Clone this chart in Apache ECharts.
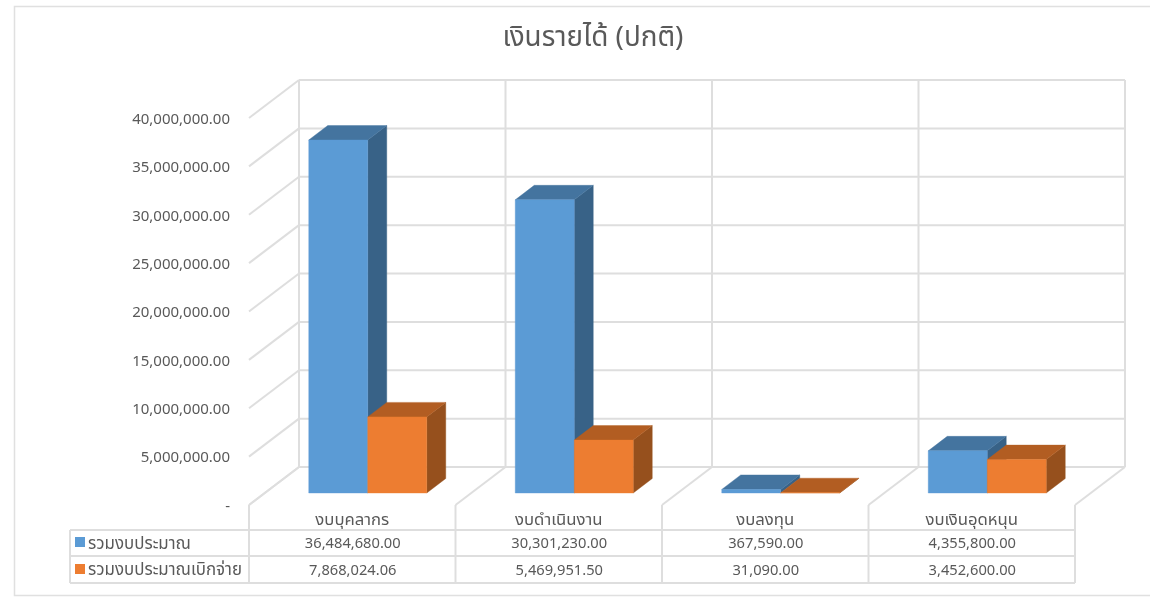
<!DOCTYPE html>
<html><head><meta charset="utf-8">
<style>html,body{margin:0;padding:0;background:#fff}#c{width:1150px;height:600px}</style>
<script src="https://cdn.jsdelivr.net/npm/echarts@6/dist/echarts.min.js"></script>
</head><body><div id="c"></div>
<script>
const titleText = 'เงินรายได้ (ปกติ)';
const categories = ['งบบุคลากร','งบดำเนินงาน','งบลงทุน','งบเงินอุดหนุน'];
const budgetName = 'รวมงบประมาณ';
const spentName = 'รวมงบประมาณเบิกจ่าย';
const budget = [36484680.00,30301230.00,367590.00,4355800.00];
const spent = [7868024.06,5469951.50,31090.00,3452600.00];
const ticks = [0,5000000,10000000,15000000,20000000,25000000,30000000,35000000,40000000];

const FONT = '"Noto Sans","Noto Sans Thai","Open Sans",sans-serif';
const TXT = '#595959', GRID = '#dedede';
const fmt = v => v.toLocaleString('en-US',{minimumFractionDigits:2,maximumFractionDigits:2});
const WALL = {dx:50, dy:38};
const lineStyle = {stroke:GRID, lineWidth:2};
const seg = (x1,y1,x2,y2) => ({type:'line',shape:{x1,y1,x2,y2},style:lineStyle,silent:true});

function bar(colors, side){
  return function(params, api){
    const c = api.coord([api.value(0), api.value(1)]);
    const base = api.coord([api.value(0), 0]);
    const w = 59, ox = 15.5, oy = -12, dx = 19, dy = -14.5;
    const xL = side < 0 ? base[0]+ox-w : base[0]+ox;
    const xR = xL + w;
    const yB = base[1]+oy, yT = c[1]+oy;
    const poly = (pts,fill) => ({type:'polygon',shape:{points:pts},style:{fill,stroke:fill,lineWidth:0.4}});
    return {type:'group',children:[
      poly([[xR,yT],[xR+dx,yT+dy],[xR+dx,yB+dy],[xR,yB]],colors.side),
      poly([[xL,yT],[xL+dx,yT+dy],[xR+dx,yT+dy],[xR,yT]],colors.top),
      poly([[xL,yT],[xR,yT],[xR,yB],[xL,yB]],colors.front)
    ]};
  };
}
const BLUE={front:'#5B9BD5',top:'#44749F',side:'#386287'};
const ORANGE={front:'#ED7D31',top:'#B25D22',side:'#96501D'};

function wallItem(params, api){
  const r = params.coordSys, v = api.value(0);
  const y = api.coord([0,v])[1];
  const left=r.x, right=r.x+r.width;
  const kids=[seg(left,y,left+WALL.dx,y-WALL.dy)];
  kids.push(seg(left+WALL.dx,y-WALL.dy,right+WALL.dx,y-WALL.dy));
  return {type:'group',children:kids};
}
function vertItem(params, api){
  const r = params.coordSys, i = params.dataIndex;
  const band = r.width/categories.length;
  const x = r.x + band*i, yB = r.y+r.height, yT = r.y;
  const tableB = yB+78;
  return {type:'group',children:[
    seg(x,yB,x+WALL.dx,yB-WALL.dy),
    seg(x+WALL.dx,yB-WALL.dy,x+WALL.dx,yT-WALL.dy),
    seg(x,yB,x,tableB)
  ]};
}
function tableItem(params, api){
  const r = params.coordSys, i = params.dataIndex;
  const cx = api.coord([i,0])[0], yB = r.y+r.height;
  const row1 = yB+25, row2 = yB+51, row3 = yB+78, tl = 70;
  const t = (x,y,text,align,size) => ({type:'text',x,y,style:{text,x:0,y:0,fill:TXT,font:size+'px '+FONT,textAlign:align,textVerticalAlign:'middle'}});
  const kids=[t(cx+0.5,row1+14,fmt(budget[i]),'center',14.7),t(cx+0.5,row2+14.5,fmt(spent[i]),'center',14.7)];
  if(i===0){
    kids.push(seg(tl,row1,r.x+r.width,row1),seg(tl,row2,r.x+r.width,row2),seg(tl,row3,r.x+r.width,row3),seg(tl,row1,tl,row3));
    kids.push({type:'rect',shape:{x:tl+5,y:row1+7,width:10,height:10},style:{fill:BLUE.front}});
    kids.push({type:'rect',shape:{x:tl+5,y:row2+8,width:10,height:10},style:{fill:ORANGE.front}});
    kids.push(t(tl+18,row1+14,budgetName,'left',16.9),t(tl+18,row2+14,spentName,'left',16.9));
  }
  return {type:'group',children:kids};
}

const chart = echarts.init(document.getElementById('c'),null,{renderer:'canvas'});
chart.setOption({
  animation:false,
  backgroundColor:'#fff',
  title:{text:titleText,left:588,top:19,textAlign:'center',textStyle:{fontFamily:FONT,fontSize:27.8,fontWeight:'normal',color:TXT}},
  graphic:[{type:'rect',silent:true,z:-10,shape:{x:14.5,y:6.5,width:1160,height:589},style:{fill:'none',stroke:'#e0e0e0',lineWidth:1.5}}],
  grid:{left:249,width:826,top:118,height:387},
  xAxis:{type:'category',data:categories,axisLine:{show:false},axisTick:{show:false},splitLine:{show:false},
    axisLabel:{margin:7,color:TXT,fontFamily:FONT,fontSize:16.7,interval:0}},
  yAxis:{type:'value',min:0,max:40000000,interval:5000000,axisLine:{show:false},axisTick:{show:false},splitLine:{show:false},
    axisLabel:{margin:19,formatter:v=>'{a|'+(v===0?'-':fmt(v))+'}',
      rich:{a:{color:TXT,fontFamily:FONT,fontSize:15,padding:[3,0,0,0]}}}},
  series:[
    {type:'custom',name:'wall',silent:true,clip:false,data:ticks.map(v=>[v]),encode:{y:0},renderItem:wallItem,z:1},
    {type:'custom',name:'vert',silent:true,clip:false,data:[0,1,2,3,4].map(v=>[v]),renderItem:vertItem,z:1},
    {type:'custom',name:'table',silent:true,clip:false,data:categories.map((c,i)=>[i]),renderItem:tableItem,z:1},
    {type:'custom',name:budgetName,clip:false,data:budget.map((v,i)=>[i,v]),encode:{x:0,y:1},renderItem:bar(BLUE,-1),z:2},
    {type:'custom',name:spentName,clip:false,data:spent.map((v,i)=>[i,v]),encode:{x:0,y:1},renderItem:bar(ORANGE,1),z:3}
  ]
});
</script></body></html>
